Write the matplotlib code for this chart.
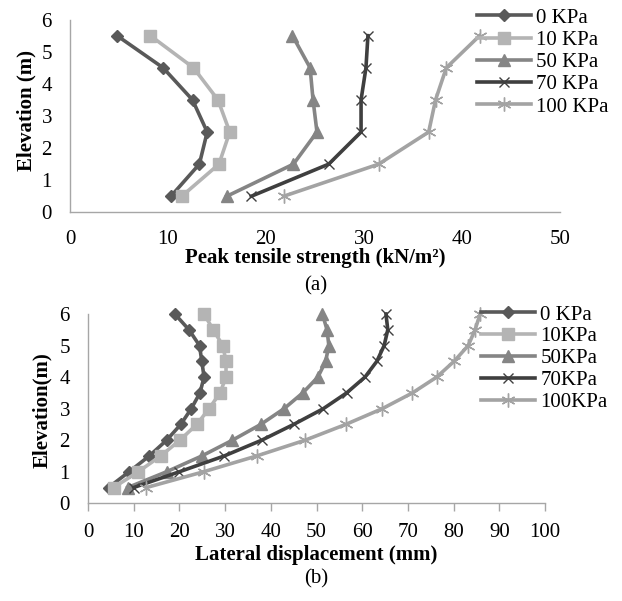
import matplotlib
matplotlib.use("Agg")
import matplotlib.pyplot as plt

plt.rcParams['font.family'] = ['Liberation Serif', 'DejaVu Serif']

# ---- data (a) ----
elev_a = [0.5, 1.5, 2.5, 3.5, 4.5, 5.5]
labels_a = ['0 KPa', '10 KPa', '50 KPa', '70 KPa', '100 KPa']
ts_0 = [10.3, 13.2, 14.0, 12.5, 9.5, 4.8]
ts_10 = [11.4, 15.2, 16.3, 15.1, 12.6, 8.2]
ts_50 = [16.0, 22.8, 25.2, 24.8, 24.5, 22.7]
ts_70 = [18.5, 26.4, 29.7, 29.7, 30.2, 30.4]
ts_100 = [21.8, 31.5, 36.6, 37.3, 38.4, 41.8]

# ---- data (b) ----
elev_b = [0.5, 1.0, 1.5, 2.0, 2.5, 3.0, 3.5, 4.0, 4.5, 5.0, 5.5, 6.0]
labels_b = ['0 KPa', '10KPa', '50KPa', '70KPa', '100KPa']
ld_0 = [4.5, 9.0, 13.4, 17.2, 20.3, 22.6, 24.5, 25.4, 24.9, 24.4, 22.1, 19.0]
ld_10 = [5.6, 11.0, 15.9, 20.1, 23.8, 26.5, 28.9, 30.2, 30.2, 29.5, 27.4, 25.4]
ld_50 = [8.7, 17.2, 24.9, 31.6, 37.8, 42.9, 47.0, 50.3, 52.0, 52.7, 52.3, 51.3]
ld_70 = [10.0, 20.0, 29.8, 38.0, 45.0, 51.5, 56.6, 60.6, 63.2, 64.8, 65.6, 65.2]
ld_100 = [12.8, 25.3, 36.9, 47.5, 56.4, 64.4, 71.0, 76.3, 80.1, 83.2, 84.7, 85.8]

colors = ['#595959', '#b4b4b4', '#858585', '#3f3f3f', '#a3a3a3']
markers = ['D', 's', '^', 'x', (6, 2, 0)]
msizes = [6, 9, 9, 7, 10]

W, H = 622, 601
fig = plt.figure(figsize=(W / 100, H / 100), dpi=100)

def px_axes(l, r, t, b):
    return fig.add_axes([l / W, 1 - b / H, (r - l) / W, (b - t) / H])

spine_c = '#a6a6a6'
FS = 15

def style(ax, xticklen):
    for s in ['top', 'right']:
        ax.spines[s].set_visible(False)
    for s in ['left', 'bottom']:
        ax.spines[s].set_color(spine_c)
        ax.spines[s].set_linewidth(1.0)
    ax.tick_params(axis='y', length=0, pad=13, labelsize=FS)
    ax.tick_params(axis='x', length=xticklen, width=1.0, color=spine_c,
                   pad=13 if xticklen == 0 else 8.5, labelsize=FS)

def draw(ax, series, elev, labels):
    hs = []
    for vals, c, m, ms, lab in zip(series, colors, markers, msizes, labels):
        h, = ax.plot(vals, elev, color=c, lw=2.6, marker=m, markersize=ms,
                     markerfacecolor=c, markeredgecolor=c, markeredgewidth=1.0,
                     label=lab, clip_on=False)
        hs.append(h)
    return hs

# ---- (a) ----
ax1 = px_axes(70, 560, 19.6, 212.3)
draw(ax1, [ts_0, ts_10, ts_50, ts_70, ts_100], elev_a, labels_a)
ax1.set_xlim(0, 50)
ax1.set_ylim(0, 6)
ax1.set_xticks([0, 10, 20, 30, 40, 50])
ax1.set_yticks(range(7))
style(ax1, 0)
leg1 = ax1.legend(loc='upper left', bbox_to_anchor=(477 / W, 1 - 8 / H),
                  bbox_transform=fig.transFigure, frameon=False, fontsize=FS,
                  handlelength=2.6, handletextpad=0.25, labelspacing=0.13,
                  borderpad=0, borderaxespad=0)

fig.text(315 / W, 1 - 258 / H, 'Peak tensile strength (kN/m²)', ha='center',
         va='center', fontsize=FS, fontweight='bold')
fig.text(316 / W, 1 - 286 / H, '(a)', ha='center', va='center', fontsize=FS)
fig.text(26 / W, 1 - 110 / H, 'Elevation (m)', ha='center', va='center',
         fontsize=FS, fontweight='bold', rotation=90)

# ---- (b) ----
ax2 = px_axes(88, 545, 314, 503.3)
draw(ax2, [ld_0, ld_10, ld_50, ld_70, ld_100], elev_b, labels_b)
ax2.set_xlim(0, 100)
ax2.set_ylim(0, 6)
ax2.set_xticks(range(0, 101, 10))
ax2.set_yticks(range(7))
style(ax2, 6)
leg2 = ax2.legend(loc='upper left', bbox_to_anchor=(481 / W, 1 - 305 / H),
                  bbox_transform=fig.transFigure, frameon=False, fontsize=FS,
                  handlelength=2.6, handletextpad=0.25, labelspacing=0.11,
                  borderpad=0, borderaxespad=0)

fig.text(316 / W, 1 - 555 / H, 'Lateral displacement (mm)', ha='center',
         va='center', fontsize=FS, fontweight='bold')
fig.text(316 / W, 1 - 579 / H, '(b)', ha='center', va='center', fontsize=FS)
fig.text(42 / W, 1 - 410 / H, 'Elevation(m)', ha='center', va='center',
         fontsize=FS, fontweight='bold', rotation=90)

fig.savefig('out.png', dpi=100, facecolor='white')
